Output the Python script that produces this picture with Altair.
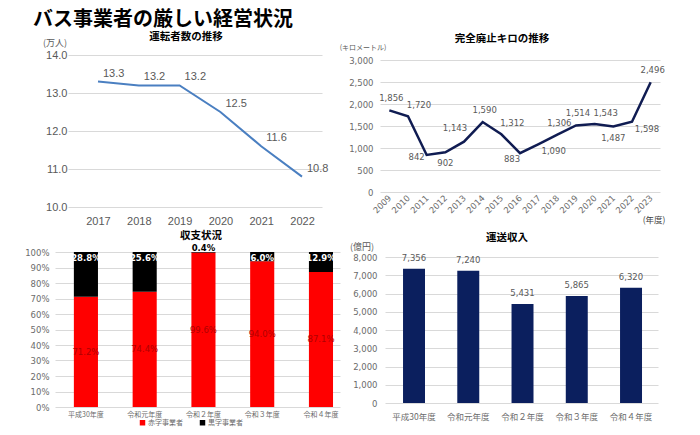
import altair as alt
import pandas as pd

# ---------------- data ----------------
main_title = "バス事業者の厳しい経営状況"

a_title = "運転者数の推移"
a_unit = "(万人)"
a_years = ["2017", "2018", "2019", "2020", "2021", "2022"]
a_values = [13.3, 13.2, 13.2, 12.5, 11.6, 10.8]
a_ticks = [10, 11, 12, 13, 14]

b_title = "完全廃止キロの推移"
b_unit = "(キロメートル)"
b_xunit = "(年度)"
b_years = ["2009", "2010", "2011", "2012", "2013", "2014", "2015", "2016",
           "2017", "2018", "2019", "2020", "2021", "2022", "2023"]
b_values = [1856, 1720, 842, 902, 1143, 1590, 1312, 883, 1090, 1306, 1514, 1543, 1487, 1598, 2496]
b_label_side = ["above", "above_right", "left", "below", "above_left", "above", "above_right",
                "below_left", "below_right", "above", "above", "above_right", "below",
                "below_right", "above"]
b_ticks = [0, 500, 1000, 1500, 2000, 2500, 3000]

c_title = "収支状況"
c_cats = ["平成30年度", "令和元年度", "令和２年度", "令和３年度", "令和４年度"]
c_types = ["赤字事業者", "黒字事業者"]
c_loss = [71.2, 74.4, 99.6, 94.0, 87.1]
c_profit = [28.8, 25.6, 0.4, 6.0, 12.9]
c_ticks = [0, 10, 20, 30, 40, 50, 60, 70, 80, 90, 100]

d_title = "運送収入"
d_unit = "(億円)"
d_cats = ["平成30年度", "令和元年度", "令和２年度", "令和３年度", "令和４年度"]
d_values = [7356, 7240, 5431, 5865, 6320]
d_ticks = [0, 1000, 2000, 3000, 4000, 5000, 6000, 7000, 8000]

# ---------------- style ----------------
W, H = 684, 419
JP = "Noto Sans CJK JP"
SANS = "Liberation Sans"
VER = "DejaVu Sans"
GRID = "#d9d9d9"
GRAY = "#595959"
LGRAY = "#6b6b6b"


def P(v):
    return v - 8


def note(text, x, y, size, bold=False, align="center", baseline="middle", color=GRAY, font=JP):
    return alt.Chart(pd.DataFrame({"t": [text]})).mark_text(
        x=P(x), y=P(y), align=align, baseline=baseline, fontSize=size,
        fontWeight="bold" if bold else "normal", font=font, color=color
    ).encode(text="t:N")


def yaxis(left_px, values, font, size, pad, color, **kw):
    return alt.Axis(orient="left", offset=-P(left_px), values=values, grid=True,
                    gridColor=GRID, gridWidth=1, domain=False, ticks=False, tickSize=0,
                    labelPadding=pad, labelFont=font, labelFontSize=size,
                    labelColor=color, title=None, **kw)


def xaxis(bottom_px, font, size, pad, color, angle=0, **kw):
    return alt.Axis(orient="bottom", offset=P(bottom_px) - H, grid=False, domain=False,
                    ticks=False, tickSize=0, labelPadding=pad, labelFont=font,
                    labelFontSize=size, labelColor=color, labelOverlap=False,
                    labelAngle=angle, title=None, **kw)


layers = []

# main title
layers.append(note(main_title, 33, 10, 20, bold=True, align="left", baseline="top",
                   color="#000000"))

# ---------------- panel A ----------------
dfA = pd.DataFrame({"year": a_years, "value": a_values})
xA = alt.Scale(type="point", domain=a_years, range=[P(68), P(322)], padding=0.6125, align=0.6)
yA = alt.Scale(domain=[10, 14], range=[P(207), P(55)], nice=False, zero=False)

layers.append(alt.Chart(dfA).mark_line(color="#4a7fc1", strokeWidth=2).encode(
    x=alt.X("year:O", scale=xA, axis=xaxis(207, SANS, 11, 8, GRAY, labelAlign="center")),
    y=alt.Y("value:Q", scale=yA, axis=yaxis(68, a_ticks, SANS, 11, 1, GRAY, format=".1f")),
))
layers.append(alt.Chart(dfA).mark_text(align="left", baseline="middle", dx=5, dy=-8,
                                       fontSize=11, font=SANS, color=GRAY).encode(
    x=alt.X("year:O", scale=xA, axis=None),
    y=alt.Y("value:Q", scale=yA, axis=None),
    text=alt.Text("value:Q", format=".1f"),
))
layers.append(note(a_title, 186, 37, 10.5, bold=True, color="#000000"))
layers.append(note(a_unit, 55, 43, 9))

# ---------------- panel B ----------------
dfB = pd.DataFrame({"year": b_years, "value": b_values, "side": b_label_side})
xB = alt.Scale(type="point", domain=b_years, range=[P(380), P(660)], padding=0.5)
yB = alt.Scale(domain=[0, 3000], range=[P(192), P(60)], nice=False)

layers.append(alt.Chart(dfB).mark_line(color="#101c52", strokeWidth=2.5).encode(
    x=alt.X("year:O", scale=xB,
            axis=xaxis(192, VER, 8.5, 4, LGRAY, angle=-45, labelAlign="right",
                       labelBaseline="middle")),
    y=alt.Y("value:Q", scale=yB, axis=yaxis(380, b_ticks, VER, 8.5, 7, LGRAY, format=",.0f")),
))
offsets = {
    "above": (2, -12), "above_right": (11, -11), "above_left": (-9, -14),
    "left": (-10, 2), "below": (0, 11), "below_left": (-8, 6), "below_right": (15, 7),
}
for side, (dx, dy) in offsets.items():
    layers.append(alt.Chart(dfB).transform_filter(alt.datum.side == side).mark_text(
        align="center", baseline="middle", dx=dx, dy=dy, fontSize=8.5, font=VER, color=GRAY
    ).encode(
        x=alt.X("year:O", scale=xB, axis=None),
        y=alt.Y("value:Q", scale=yB, axis=None),
        text=alt.Text("value:Q", format=",.0f"),
    ))
layers.append(note(b_title, 502, 39, 10.5, bold=True, color="#000000"))
layers.append(note(b_unit, 363, 48, 7))
layers.append(note(b_xunit, 654, 220, 8.5, color="#404040"))

# ---------------- panel C ----------------
dfC = pd.DataFrame({
    "cat": c_cats * 2,
    "type": [c_types[0]] * len(c_cats) + [c_types[1]] * len(c_cats),
    "value": c_loss + c_profit,
})
xC = alt.Scale(type="band", domain=c_cats, range=[P(55), P(340)], paddingInner=0.59,
               paddingOuter=0.22, align=0.73)
yC = alt.Scale(domain=[0, 100], range=[P(407), P(252)], nice=False)

layers.append(alt.Chart(dfC).transform_calculate(
    ord=f"datum.type == '{c_types[0]}' ? 0 : 1"
).mark_bar().encode(
    x=alt.X("cat:N", scale=xC, axis=xaxis(407, JP, 7, 3, LGRAY, labelAlign="center")),
    y=alt.Y("value:Q", stack="zero", scale=yC,
            axis=yaxis(55, c_ticks, VER, 8.5, 6, LGRAY, labelExpr="datum.value + '%'")),
    color=alt.Color("type:N", scale=alt.Scale(domain=c_types, range=["#ff0000", "#000000"]),
                    legend=alt.Legend(orient="none", legendX=P(139), legendY=P(419),
                                      direction="horizontal", title=None, symbolType="square",
                                      symbolSize=30, symbolStrokeWidth=0, labelFont=JP,
                                      labelFontSize=7, labelColor=LGRAY, columnPadding=16,
                                      labelOffset=2)),
    order=alt.Order("ord:Q"),
))
dfCl = pd.DataFrame({"cat": c_cats, "loss": c_loss, "profit": c_profit})
layers.append(alt.Chart(dfCl).transform_calculate(
    mid="datum.loss / 2", lbl="format(datum.loss / 100, '.1%')"
).mark_text(align="center", baseline="middle", fontSize=8.5, font=VER, color="#b00000").encode(
    x=alt.X("cat:N", scale=xC, axis=None),
    y=alt.Y("mid:Q", scale=yC, axis=None),
    text="lbl:N",
))
layers.append(alt.Chart(dfCl).transform_calculate(
    top="datum.loss + datum.profit", lbl="format(datum.profit / 100, '.1%')"
).transform_filter("datum.profit >= 1").mark_text(
    align="center", baseline="middle", dy=6, fontSize=8.5, font=VER, fontWeight="bold",
    color="#ffffff"
).encode(
    x=alt.X("cat:N", scale=xC, axis=None),
    y=alt.Y("top:Q", scale=yC, axis=None),
    text="lbl:N",
))
layers.append(alt.Chart(dfCl).transform_calculate(
    top="datum.loss + datum.profit", lbl="format(datum.profit / 100, '.1%')"
).transform_filter("datum.profit < 1").mark_text(
    align="center", baseline="middle", dy=-4, fontSize=8.5, font=VER, fontWeight="bold",
    color="#000000"
).encode(
    x=alt.X("cat:N", scale=xC, axis=None),
    y=alt.Y("top:Q", scale=yC, axis=None),
    text="lbl:N",
))
layers.append(note(c_title, 201, 236, 10.5, bold=True, color="#000000"))

# ---------------- panel D ----------------
dfD = pd.DataFrame({"cat": d_cats, "value": d_values})
xD = alt.Scale(type="band", domain=d_cats, range=[P(385), P(658)], paddingInner=0.595,
               paddingOuter=0.3135, align=0.53)
yD = alt.Scale(domain=[0, 8000], range=[P(403), P(257)], nice=False)

layers.append(alt.Chart(dfD).mark_bar(color="#0b1f5e").encode(
    x=alt.X("cat:N", scale=xD, axis=xaxis(403, JP, 8.5, 9, LGRAY, labelAlign="center")),
    y=alt.Y("value:Q", scale=yD, axis=yaxis(385, d_ticks, VER, 8.5, 8, LGRAY, format=",.0f")),
))
layers.append(alt.Chart(dfD).mark_text(align="center", baseline="middle", dy=-11,
                                       fontSize=8.5, font=VER, color=GRAY).encode(
    x=alt.X("cat:N", scale=xD, axis=None),
    y=alt.Y("value:Q", scale=yD, axis=None),
    text=alt.Text("value:Q", format=",.0f"),
))
layers.append(note(d_title, 507, 238, 10.5, bold=True, color="#000000"))
layers.append(note(d_unit, 362, 247, 9))

chart = alt.layer(*layers).resolve_scale(
    x="independent", y="independent", color="independent"
).properties(
    width=W, height=H, autosize=alt.AutoSizeParams(type="none"), padding=0,
    background="#ffffff"
).configure_view(stroke=None)

chart.save("out.html", embed_options={"renderer": "svg", "actions": False})
